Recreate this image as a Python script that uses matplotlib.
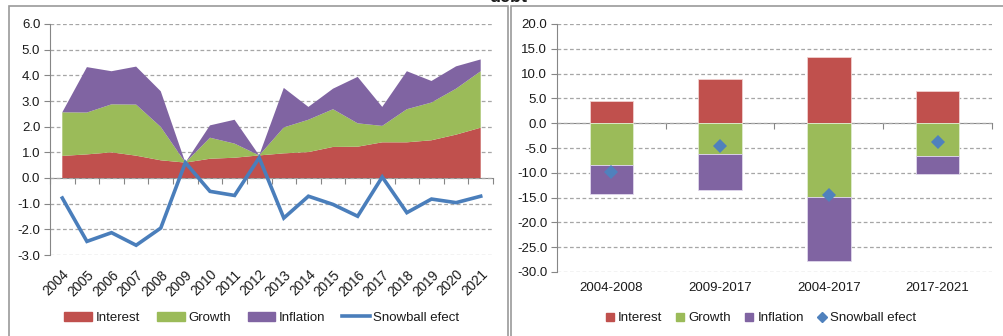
import matplotlib
matplotlib.use("Agg")
import matplotlib.pyplot as plt
from matplotlib.patches import Rectangle, Patch
from matplotlib.lines import Line2D
import numpy as np

plt.rcParams['font.family'] = ['Liberation Sans', 'DejaVu Sans']
plt.rcParams['font.size'] = 9

# ---- data: left chart (annual contributions) ----
years = ["2004", "2005", "2006", "2007", "2008", "2009", "2010", "2011", "2012",
         "2013", "2014", "2015", "2016", "2017", "2018", "2019", "2020", "2021"]
interest = [0.86, 0.92, 1.00, 0.87, 0.69, 0.60, 0.75, 0.79, 0.88,
            0.96, 1.01, 1.21, 1.22, 1.39, 1.39, 1.47, 1.69, 1.96]
growth = [1.70, 1.63, 1.87, 1.99, 1.30, 0.00, 0.82, 0.55, 0.00,
          1.01, 1.26, 1.47, 0.91, 0.64, 1.29, 1.47, 1.79, 2.20]
inflation = [0.00, 1.77, 1.29, 1.48, 1.39, 0.00, 0.48, 0.93, 0.00,
             1.54, 0.50, 0.80, 1.81, 0.74, 1.48, 0.84, 0.87, 0.46]
snowball = [-0.78, -2.47, -2.13, -2.62, -1.95, 0.60, -0.52, -0.68, 0.79,
            -1.56, -0.71, -1.03, -1.49, 0.04, -1.35, -0.82, -0.96, -0.71]

# ---- data: right chart (cumulative by period) ----
periods = ["2004-2008", "2009-2017", "2004-2017", "2017-2021"]
p_interest = [4.43, 8.93, 13.30, 6.58]
p_growth = [-8.46, -6.24, -14.80, -6.58]
p_inflation = [-5.74, -7.26, -13.00, -3.69]
p_snowball = [-9.87, -4.56, -14.50, -3.76]

C_INT = "#C0504D"
C_GRO = "#9BBB59"
C_INF = "#8064A2"
C_SNB = "#4A7EBB"
GRID = "#A6A6A6"
AXC = "#868686"
TXT = "#1a1a1a"

fig = plt.figure(figsize=(10.04, 3.36), dpi=100)

# panel borders
fig.patches.append(Rectangle((9 / 1004, -0.05), (508 - 9) / 1004, 1.05 - 6 / 336,
                             transform=fig.transFigure, fill=False,
                             edgecolor="#9a9a9a", lw=1.2))
fig.patches.append(Rectangle((511 / 1004, -0.05), 0.6, 1.05 - 6 / 336,
                             transform=fig.transFigure, fill=False,
                             edgecolor="#9a9a9a", lw=1.2))
fig.text(508 / 1004, 1 - 2 / 336, "debt", ha="center", va="baseline",
         fontsize=13, fontweight="bold", color=TXT)


def style_axes(ax):
    for s in ("top", "right", "bottom"):
        ax.spines[s].set_visible(False)
    ax.spines["left"].set_color(AXC)
    ax.yaxis.grid(True, linestyle=(0, (3, 2)), color=GRID, lw=0.9)
    ax.set_axisbelow(True)
    ax.tick_params(axis="y", direction="out", length=4, color=AXC,
                   labelcolor=TXT, labelsize=9.5, pad=3)
    ax.tick_params(axis="x", length=0, labelcolor=TXT)


# ---------------- left chart ----------------
axL = fig.add_axes([50 / 1004, 1 - 255 / 336, (493 - 50) / 1004, (255 - 24) / 336])
x = np.arange(len(years))
axL.stackplot(x, interest, growth, inflation, colors=[C_INT, C_GRO, C_INF], lw=0)
axL.plot(x, snowball, color=C_SNB, lw=2.6, solid_joinstyle="miter")
axL.set_xlim(-0.5, len(years) - 0.5)
axL.set_ylim(-3, 6)
axL.set_yticks(np.arange(-3, 6.01, 1))
axL.set_yticklabels([f"{v:.1f}" for v in np.arange(-3, 6.01, 1)])
style_axes(axL)
axL.set_xticks(x)
axL.set_xticklabels(years, rotation=45, ha="right", va="top",
                    rotation_mode="anchor", fontsize=9.8)
axL.tick_params(axis="x", pad=9)
secL = axL.secondary_xaxis(0, transform=axL.transData)
secL.set_xticks(np.arange(-0.5, len(years), 1))
secL.set_xticklabels([])
secL.tick_params(axis="x", direction="out", length=4, color=AXC)
secL.spines["bottom"].set_color(AXC)

handlesL = [Patch(color=C_INT), Patch(color=C_GRO), Patch(color=C_INF),
            Line2D([], [], color=C_SNB, lw=2.6)]
fig.legend(handlesL, ["Interest", "Growth", "Inflation", "Snowball efect"],
           loc="center", bbox_to_anchor=(262 / 1004, 1 - 318 / 336), ncol=4,
           frameon=False, fontsize=9.5, handlelength=2.1, handleheight=0.75,
           handletextpad=0.25, columnspacing=1.3, labelcolor=TXT)

# ---------------- right chart ----------------
axR = fig.add_axes([557 / 1004, 1 - 272 / 336, (992 - 557) / 1004, (272 - 24) / 336])
xr = np.arange(len(periods))
bw = 0.4
axR.bar(xr, p_interest, bw, color=C_INT, edgecolor="#f0d0d0", lw=0.6)
axR.bar(xr, p_growth, bw, color=C_GRO, edgecolor="#e0ecd0", lw=0.6)
axR.bar(xr, p_inflation, bw, bottom=p_growth, color=C_INF, edgecolor="#e0d8ec", lw=0.6)
axR.plot(xr, p_snowball, linestyle="none", marker="D", color="#4F81BD",
         markersize=7, markeredgewidth=0)
axR.set_xlim(-0.5, len(periods) - 0.5)
axR.set_ylim(-30, 20)
axR.set_yticks(np.arange(-30, 20.01, 5))
axR.set_yticklabels([f"{v:.1f}" for v in np.arange(-30, 20.01, 5)])
style_axes(axR)
axR.set_xticks(xr)
axR.set_xticklabels(periods, fontsize=9.5)
axR.tick_params(axis="x", pad=7)
secR = axR.secondary_xaxis(0, transform=axR.transData)
secR.set_xticks(np.arange(-0.5, len(periods), 1))
secR.set_xticklabels([])
secR.tick_params(axis="x", direction="out", length=4, color=AXC)
secR.spines["bottom"].set_color(AXC)

handlesR = [Line2D([], [], linestyle="none", marker="s", color=C_INT, markersize=6),
            Line2D([], [], linestyle="none", marker="s", color=C_GRO, markersize=6),
            Line2D([], [], linestyle="none", marker="s", color=C_INF, markersize=6),
            Line2D([], [], linestyle="none", marker="D", color="#4F81BD", markersize=5.5)]
fig.legend(handlesR, ["Interest", "Growth", "Inflation", "Snowball efect"],
           loc="center", bbox_to_anchor=(761 / 1004, 1 - 318 / 336), ncol=4,
           frameon=False, fontsize=9.5, handlelength=0.6, handletextpad=0.3,
           columnspacing=1.1, labelcolor=TXT)

fig.savefig("out.png", dpi=100)
